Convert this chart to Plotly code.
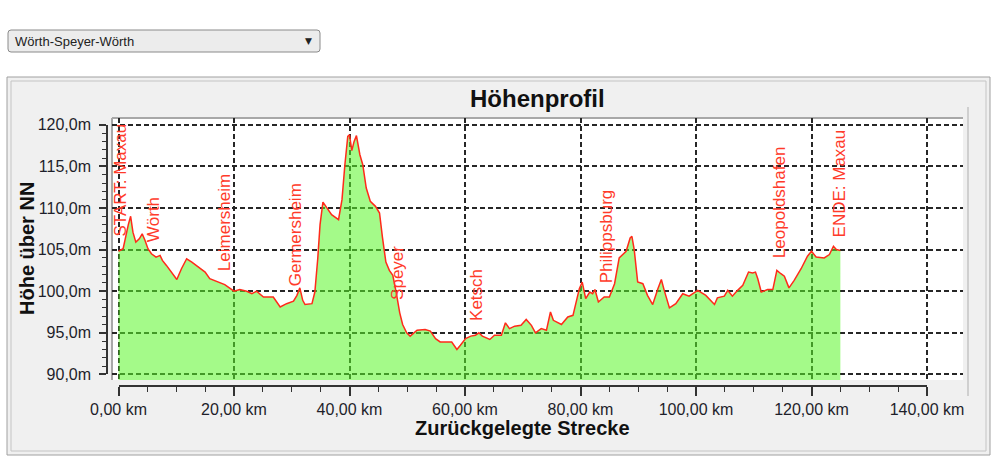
import plotly.graph_objects as go

# ---------------- data ----------------
distance_km = [0, 0.8, 1.7, 2.1, 2.5, 3.0, 3.6, 4.1, 4.6, 5.1, 5.7, 6.5, 7.2, 7.6, 8.3, 9.2,
               10.1, 10.9, 11.8, 12.7, 13.8, 15.0, 15.8, 17.0, 18.4, 20.0, 21.0, 22.2, 23.1,
               23.9, 25.1, 26.8, 28.0, 29.1, 30.3, 30.9, 31.4, 31.9, 32.3, 33.5, 34.0, 34.5,
               34.9, 35.4, 36.1, 36.9, 38.1, 38.7, 39.2, 39.7, 40.0, 40.4, 40.8, 41.2, 41.8,
               42.3, 42.9, 43.6, 44.5, 45.2, 45.7, 46.3, 46.9, 47.5, 48.1, 48.7, 49.2, 49.9,
               50.5, 51.7, 53.1, 54.0, 54.9, 55.7, 57.7, 58.6, 59.2, 60.1, 61.0, 61.8, 62.4,
               63.0, 64.3, 65.1, 66.3, 67.0, 67.7, 68.6, 69.7, 70.6, 71.5, 72.2, 73.2, 74.1,
               74.8, 75.3, 76.7, 77.8, 78.7, 79.4, 79.8, 80.3, 80.9, 81.6, 82.1, 82.5, 83.1,
               84.1, 85.0, 85.9, 86.7, 87.9, 88.6, 88.9, 89.3, 89.9, 90.8, 91.6, 92.5, 93.4,
               94.0, 94.5, 95.4, 96.5, 97.7, 98.8, 100.3, 101.7, 103.2, 103.7, 104.9, 105.5,
               106.3, 107.2, 108.1, 109.1, 109.8, 110.3, 110.7, 111.3, 112.4, 113.3, 114.0,
               114.7, 115.3, 116.1, 117.0, 118.2, 119.3, 120.0, 120.8, 122.2, 123.1, 123.8,
               124.3, 125.0]
elevation_m = [104.8, 105.1, 108.0, 109.0, 107.1, 105.9, 106.3, 106.9, 106.1, 105.1, 104.5,
               104.1, 104.3, 103.7, 103.1, 102.3, 101.4, 102.7, 103.9, 103.5, 102.9, 102.3,
               101.5, 101.2, 100.8, 100.0, 100.2, 100.0, 99.7, 100.0, 99.3, 99.3, 98.1, 98.5,
               98.8, 99.5, 100.4, 98.9, 98.4, 98.5, 99.9, 103.9, 108.0, 110.7, 110.0, 109.2,
               108.6, 111.0, 115.2, 118.6, 118.8, 116.9, 118.0, 118.7, 116.4, 115.2, 112.4,
               110.8, 110.2, 109.4, 106.5, 103.5, 102.5, 101.9, 99.8, 97.4, 96.0, 95.0, 94.6,
               95.3, 95.4, 95.2, 94.3, 93.9, 93.9, 93.0, 93.5, 94.3, 94.6, 94.7, 95.0, 94.6,
               94.2, 94.7, 94.7, 96.2, 95.5, 95.8, 95.9, 96.6, 95.9, 95.0, 95.5, 95.3, 97.5,
               96.5, 96.0, 96.9, 97.1, 99.3, 100.3, 101.1, 99.1, 99.9, 99.7, 100.2, 98.7,
               99.3, 99.3, 100.9, 104.0, 104.8, 106.4, 106.6, 105.0, 101.1, 100.9, 99.5, 98.4,
               100.3, 101.4, 100.1, 98.0, 98.5, 99.7, 99.4, 100.1, 99.5, 98.4, 99.2, 99.4,
               100.1, 99.4, 100.1, 100.7, 102.3, 102.2, 102.3, 101.5, 99.9, 100.2, 100.2,
               102.5, 102.1, 101.8, 100.4, 101.3, 102.7, 104.2, 104.8, 104.1, 104.0, 104.4,
               105.4, 105.0, 104.9]

place_names = ["START: Maxau", "Wörth", "Leimersheim", "Germersheim", "Speyer", "Ketsch",
               "Philippsburg", "Leopoldshafen", "ENDE: Maxau"]
place_km = [0.3, 6.0, 18.4, 30.7, 48.2, 62.1, 84.4, 114.5, 124.9]
place_label_base_m = [106.3, 105.6, 102.2, 100.4, 98.7, 96.2, 100.7, 103.7, 106.2]

x_ticks_km = [0, 20, 40, 60, 80, 100, 120, 140]
y_ticks_m = [90, 95, 100, 105, 110, 115, 120]
x_tick_labels = ["0,00 km", "20,00 km", "40,00 km", "60,00 km", "80,00 km", "100,00 km",
                 "120,00 km", "140,00 km"]
y_tick_labels = ["90,0m", "95,0m", "100,0m", "105,0m", "110,0m", "115,0m", "120,0m"]

route_name = "Wörth-Speyer-Wörth"
chart_title = "Höhenprofil"
x_title = "Zurückgelegte Strecke"
y_title = "Höhe über NN"

# ---------------- layout helpers (pixel -> paper) ----------------
W, H = 1000, 464
def px(x):
    return x / W
def py(y):
    return 1 - y / H

fig = go.Figure()

fig.add_trace(go.Scatter(
    x=distance_km, y=elevation_m, mode="lines", fill="tozeroy",
    fillcolor="rgba(90,245,40,0.55)",
    line=dict(color="#ff2a1a", width=1.5),
    xaxis="x", yaxis="y", hoverinfo="skip", showlegend=False))

# empty trace so the tick-axes subplot exists
fig.add_trace(go.Scatter(x=[], y=[], xaxis="x2", yaxis="y2", showlegend=False,
                         hoverinfo="skip"))

FONT = "Liberation Sans, Arial, sans-serif"
tickfont = dict(family=FONT, size=16, color="#1e1e2a")

# pixel geometry of plot
PL, PR, PT, PB = 112, 963, 118, 380
KM0_PX, KM_PER_PX = 118.5, 5.775
M100_PY, M_PER_PX = 291.2, 8.32
x_range = [(PL - KM0_PX) / KM_PER_PX, (PR - KM0_PX) / KM_PER_PX]
y_range = [100 + (M100_PY - PB) / M_PER_PX, 100 + (M100_PY - PT) / M_PER_PX]

grid = dict(showgrid=True, gridcolor="#262626", griddash="5px,3px", gridwidth=1.5,
            zeroline=False, showticklabels=False, ticks="", showline=False,
            automargin=False)

fig.update_layout(
    template="none",
    width=W, height=H, autosize=False, margin=dict(l=0, r=0, t=0, b=0, pad=0),
    paper_bgcolor="white", plot_bgcolor="rgba(0,0,0,0)",
    showlegend=False,
    xaxis=dict(domain=[px(PL), px(PR)], range=x_range, tickvals=x_ticks_km, **grid),
    yaxis=dict(domain=[py(PB), py(PT)], range=y_range, tickvals=y_ticks_m, **grid),
    xaxis2=dict(domain=[px(KM0_PX), px(KM0_PX + 140 * KM_PER_PX)], range=[0, 140],
                anchor="free", position=py(386), showgrid=False, zeroline=False,
                automargin=False,
                showline=True, linecolor="#333", linewidth=1.5,
                ticks="outside", ticklen=9, tickwidth=1.5, tickcolor="#333",
                tickvals=x_ticks_km, ticktext=x_tick_labels,
                tickfont=tickfont, ticklabelstandoff=0,
                minor=dict(dtick=5, ticks="outside", ticklen=5, tickcolor="#333",
                           tickwidth=1.2, showgrid=False)),
    yaxis2=dict(domain=[py(M100_PY + 10 * M_PER_PX), py(M100_PY - 20 * M_PER_PX)],
                range=[90, 120], anchor="free", position=px(107), side="left",
                automargin=False,
                showgrid=False, zeroline=False, showline=True, linecolor="#333",
                linewidth=1.5,
                ticks="outside", ticklen=7, tickwidth=1.5, tickcolor="#333",
                tickvals=y_ticks_m, ticktext=y_tick_labels,
                tickfont=tickfont, ticklabelstandoff=5,
                minor=dict(dtick=1, ticks="outside", ticklen=4, tickcolor="#333",
                           tickwidth=1.2, showgrid=False)),
)

def rect(x0, y0, x1, y1, **kw):
    return dict(type="rect", xref="paper", yref="paper", x0=px(x0), x1=px(x1),
                y0=py(y1), y1=py(y0), layer="below", **kw)

def line(x0, y0, x1, y1, color, width=1, layer="below"):
    return dict(type="line", xref="paper", yref="paper", x0=px(x0), x1=px(x1),
                y0=py(y0), y1=py(y1), line=dict(color=color, width=width), layer=layer)

shapes = [
    rect(7, 77, 990, 455, fillcolor="#f0f0f0", line=dict(color="#a0a0a0", width=1)),
    rect(11, 81, 986, 451, fillcolor="rgba(0,0,0,0)", line=dict(color="#c4c4c4", width=1)),
    rect(PL, PT, PR, PB, fillcolor="white", line=dict(width=0)),
    line(PL, PT, PR, PT, "#a8a8a8", 2),
    line(PL, PT, PL, PB, "#a8a8a8", 2),
    line(968, 107, 968, 396, "#cfcfcf", 2),
    dict(type="path", xref="paper", yref="paper", layer="below",
         path=(f"M {px(11)} {py(30)} L {px(317)} {py(30)} Q {px(320)} {py(30)} {px(320)} {py(33)} "
               f"L {px(320)} {py(49)} Q {px(320)} {py(52)} {px(317)} {py(52)} "
               f"L {px(11)} {py(52)} Q {px(8)} {py(52)} {px(8)} {py(49)} "
               f"L {px(8)} {py(33)} Q {px(8)} {py(30)} {px(11)} {py(30)} Z"),
         fillcolor="#ececec", line=dict(color="#8a8a8a", width=1)),
]
fig.update_layout(shapes=shapes)

annotations = []
for name, k, m in zip(place_names, place_km, place_label_base_m):
    annotations.append(dict(x=k, y=m, xref="x", yref="y", text=name, textangle=-90,
                            showarrow=False, xanchor="center", yanchor="bottom",
                            font=dict(family=FONT, size=17, color="#ff3a2a")))

def paper_text(x, y, text, size, xanchor="center", angle=0, family=FONT, color="#111"):
    return dict(x=px(x), y=py(y), xref="paper", yref="paper", text=text,
                xanchor=xanchor, yanchor="middle", textangle=angle, showarrow=False,
                font=dict(family=family, size=size, color=color))

annotations += [
    paper_text(537, 98, f"<b>{chart_title}</b>", 24),
    paper_text(522, 428, f"<b>{x_title}</b>", 20),
    paper_text(27, 249, f"<b>{y_title}</b>", 20, angle=-90),
    paper_text(13, 41, route_name, 13, xanchor="left", color="#222"),
    paper_text(308, 41, "▼", 9, family="DejaVu Sans, sans-serif", color="#222"),
]
fig.update_layout(annotations=annotations)

fig.write_html("out.html")
